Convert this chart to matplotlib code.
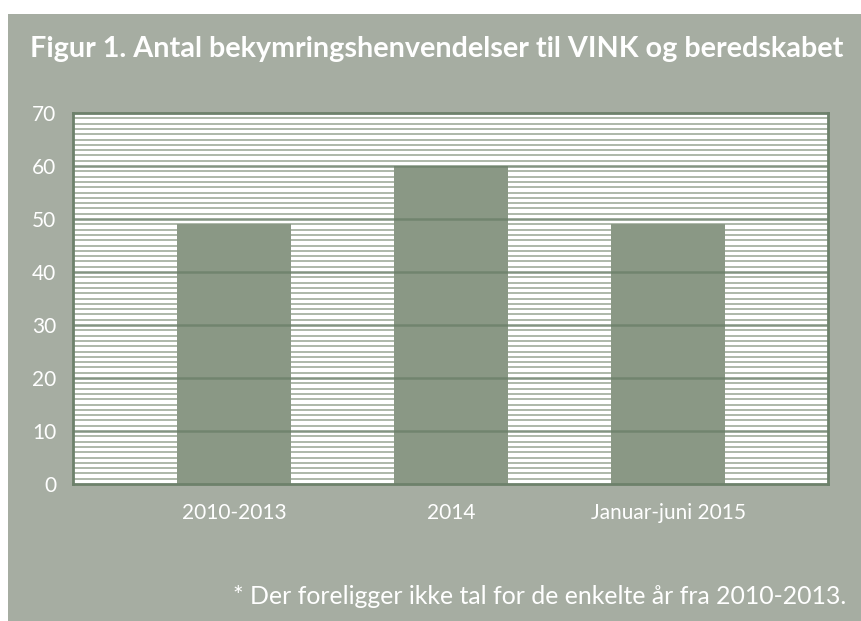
import matplotlib.pyplot as plt
from matplotlib.patches import Rectangle

categories = ['2010-2013', '2014', 'Januar-juni 2015']
values = [49, 60, 49]
y_ticks = [0, 10, 20, 30, 40, 50, 60, 70]

title = 'Figur 1. Antal bekymringshenvendelser til VINK og beredskabet'
note = '* Der foreligger ikke tal for de enkelte år fra 2010-2013.'

BG = '#a6ada2'
BAR = '#8a9885'
GRID_MAJOR = '#6d816b'
GRID_MINOR = '#9fab9b'

plt.rcParams['font.family'] = ['Lato', 'DejaVu Sans']

W, H = 861, 621
fig = plt.figure(figsize=(W / 100, H / 100), dpi=100)
fig.patch.set_facecolor(BG)

# white strips on top and left edge of the picture
fig.patches.append(Rectangle((0, 1 - 14 / H), 1, 14 / H, transform=fig.transFigure,
                             facecolor='white', edgecolor='none'))
fig.patches.append(Rectangle((0, 0), 8 / W, 1, transform=fig.transFigure,
                             facecolor='white', edgecolor='none'))

ax = fig.add_axes([73 / W, (H - 484) / H, 755 / W, 371 / H])
ax.set_zorder(2)
ax.set_facecolor('white')

x = list(range(len(categories)))
ax.bar(x, values, width=0.525, color=BAR, zorder=2)

# minor lines every unit under the bars, major lines every 10 over them
for v in range(1, 70):
    if v % 10:
        ax.axhline(v, color=GRID_MINOR, linewidth=1.2, zorder=1)
for v in y_ticks[1:-1]:
    ax.axhline(v, color=GRID_MAJOR, linewidth=1.8, alpha=0.85, zorder=3)

ax.set_xlim(-0.742, 2.737)
ax.set_ylim(0, 70)
ax.set_yticks(y_ticks)
ax.set_xticks(x)
ax.set_xticklabels(categories)
ax.tick_params(length=0, labelsize=15, labelcolor='white')
ax.tick_params(axis='x', pad=14)
ax.tick_params(axis='y', pad=12)

for s in ax.spines.values():
    s.set_color(GRID_MAJOR)
    s.set_linewidth(2)
    s.set_zorder(4)

fig.text(437 / W, 1 - 49 / H, title, ha='center', va='center',
         color='white', fontsize=20.7, fontweight='bold')
fig.text(846 / W, 1 - 597 / H, note, ha='right', va='center',
         color='white', fontsize=17.9)

fig.savefig('out.png', dpi=100)
